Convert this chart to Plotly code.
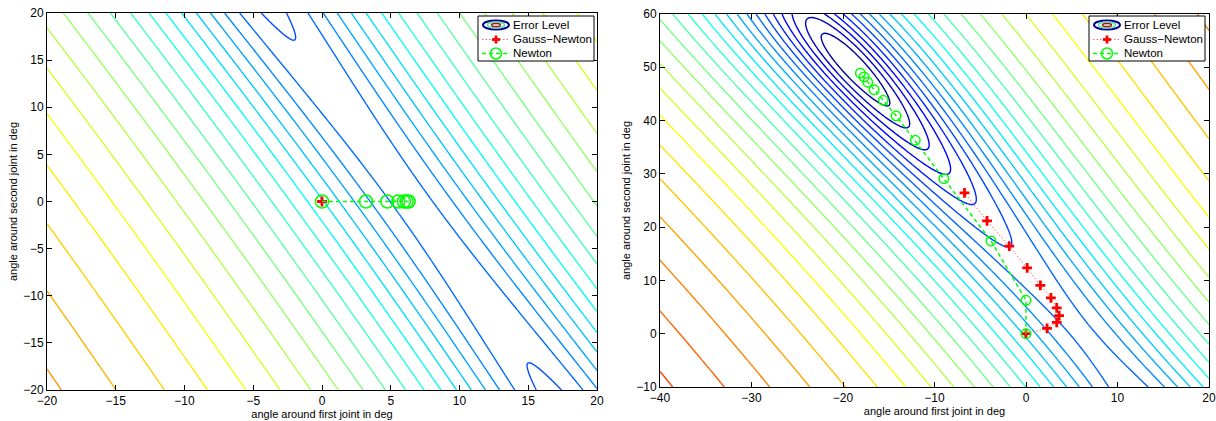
import numpy as np
import plotly.graph_objects as go

W, H = 1216, 421

# ---------------- data ----------------
LINK_LENGTHS = [1.0, 1.0]          # two-link arm, equal links

LEFT_X_RANGE = [-20, 20]
LEFT_Y_RANGE = [-20, 20]
LEFT_X_TICKS = [-20, -15, -10, -5, 0, 5, 10, 15, 20]
LEFT_Y_TICKS = [-20, -15, -10, -5, 0, 5, 10, 15, 20]
LEFT_TARGET_DIST = 1.9141
LEFT_TARGET_ANGLE = 6.5            # deg
LEFT_ERROR_OFFSET = 0.02           # level variable = log(|p - target|^2 + offset)
LEFT_LEVEL_STEP = 0.2266
LEFT_OUTER_LEVEL = 0.3513
LEFT_COLOR_RANGE = [0.20, 0.73]
LEFT_GN_T1 = [0.0]
LEFT_GN_T2 = [0.0]
LEFT_NEWTON_T1 = [0.0, 3.2, 4.75, 5.55, 5.95, 6.15, 6.3]
LEFT_NEWTON_T2 = [0.0, 0.0, 0.0, 0.0, 0.0, 0.0, 0.0]

RIGHT_X_RANGE = [-40, 20]
RIGHT_Y_RANGE = [-10, 60]
RIGHT_X_TICKS = [-40, -30, -20, -10, 0, 10, 20]
RIGHT_Y_TICKS = [-10, 0, 10, 20, 30, 40, 50, 60]
RIGHT_TARGET_DIST = 1.8126
RIGHT_TARGET_ANGLE = 6.2           # deg
RIGHT_ERROR_OFFSET = 0.01
RIGHT_LEVEL_STEP = 0.2225
RIGHT_OUTER_LEVEL = 0.957
RIGHT_COLOR_RANGE = [0.03, 0.815]
RIGHT_GN_T1 = [0.0, 2.3, 3.36, 3.62, 3.36, 2.72, 1.57, 0.13, -1.83, -4.26, -6.72]
RIGHT_GN_T2 = [0.0, 1.01, 2.14, 3.40, 4.84, 6.71, 9.09, 12.35, 16.42, 21.18, 26.44]
RIGHT_NEWTON_T1 = [0.0, 0.0, -3.83, -8.98, -12.1, -14.2, -15.6, -16.6, -17.3, -17.7, -18.1]
RIGHT_NEWTON_T2 = [0.0, 6.27, 17.42, 29.1, 36.3, 40.9, 43.8, 45.8, 47.2, 48.2, 48.9]

LEGEND_LABELS = ["Error Level", "Gauss\u2212Newton", "Newton"]
X_TITLE = "angle around first joint in deg"
Y_TITLE = "angle around second joint in deg"

FONT = "Liberation Sans, Arial, sans-serif"
GREEN = "rgb(0,255,0)"
RED = "rgb(255,0,0)"


def jet(f):
    f = float(np.clip(f, 0, 1))
    r = np.clip(1.5 - abs(4 * f - 3), 0, 1)
    g = np.clip(1.5 - abs(4 * f - 2), 0, 1)
    b = np.clip(1.5 - abs(4 * f - 1), 0, 1)
    return "rgb(%d,%d,%d)" % (round(r * 255), round(g * 255), round(b * 255))


def jet_segment(f0, f1, n=41):
    return [[i / (n - 1), jet(f0 + (f1 - f0) * i / (n - 1))] for i in range(n)]


def error_field(xr, yr, dist, ang, offset, n=301):
    t1 = np.linspace(xr[0], xr[1], n)
    t2 = np.linspace(yr[0], yr[1], n)
    A, B = np.meshgrid(np.radians(t1), np.radians(t2))
    l1, l2 = LINK_LENGTHS
    px = l1 * np.cos(A) + l2 * np.cos(A + B)
    py = l1 * np.sin(A) + l2 * np.sin(A + B)
    tx = dist * np.cos(np.radians(ang))
    ty = dist * np.sin(np.radians(ang))
    E = (px - tx) ** 2 + (py - ty) ** 2
    return t1, t2, np.round(np.log(E + offset), 5)


def px2x(p):
    return p / W


def px2y(p):
    return 1 - p / H


fig = go.Figure()

panels = [
    dict(xr=LEFT_X_RANGE, yr=LEFT_Y_RANGE, dist=LEFT_TARGET_DIST, ang=LEFT_TARGET_ANGLE,
         off=LEFT_ERROR_OFFSET, step=LEFT_LEVEL_STEP,
         outer=LEFT_OUTER_LEVEL, cr=LEFT_COLOR_RANGE, gn=(LEFT_GN_T1, LEFT_GN_T2),
         nw=(LEFT_NEWTON_T1, LEFT_NEWTON_T2), xa="x", ya="y", msize=13),
    dict(xr=RIGHT_X_RANGE, yr=RIGHT_Y_RANGE, dist=RIGHT_TARGET_DIST, ang=RIGHT_TARGET_ANGLE,
         off=RIGHT_ERROR_OFFSET, step=RIGHT_LEVEL_STEP,
         outer=RIGHT_OUTER_LEVEL, cr=RIGHT_COLOR_RANGE, gn=(RIGHT_GN_T1, RIGHT_GN_T2),
         nw=(RIGHT_NEWTON_T1, RIGHT_NEWTON_T2), xa="x2", ya="y2", msize=9.5),
]

for p in panels:
    t1, t2, Z = error_field(p["xr"], p["yr"], p["dist"], p["ang"], p["off"])
    k_max = int(np.floor((p["outer"] - Z.min()) / p["step"]))
    lo = p["outer"] - k_max * p["step"]
    fig.add_trace(go.Contour(
        x=t1, y=t2, z=Z, xaxis=p["xa"], yaxis=p["ya"],
        contours=dict(coloring="lines", start=lo, end=p["outer"] + 1e-6, size=p["step"]),
        line=dict(width=1.4, smoothing=1),
        colorscale=jet_segment(p["cr"][0], p["cr"][1]),
        showscale=False, hoverinfo="skip", showlegend=False,
    ))
    fig.add_trace(go.Scatter(
        x=p["gn"][0], y=p["gn"][1], xaxis=p["xa"], yaxis=p["ya"],
        mode="lines+markers",
        line=dict(color="rgba(255,60,60,0.8)", width=1, dash="1.5px,2px"),
        marker=dict(symbol="cross-thin", size=7, line=dict(width=2.8, color=RED)),
        showlegend=False, hoverinfo="skip",
    ))
    fig.add_trace(go.Scatter(
        x=p["nw"][0], y=p["nw"][1], xaxis=p["xa"], yaxis=p["ya"],
        mode="lines+markers",
        line=dict(color=GREEN, width=1.5, dash="4px,3px"),
        marker=dict(symbol="circle-open", size=p["msize"], line=dict(width=1.5, color=GREEN)),
        showlegend=False, hoverinfo="skip",
    ))

axis_common = dict(
    showline=True, linecolor="black", linewidth=1, mirror="ticks",
    ticks="inside", ticklen=5, tickcolor="black", tickwidth=1,
    showgrid=False, zeroline=False, automargin=False,
    tickfont=dict(family=FONT, size=12, color="black"),
)

fig.update_layout(
    width=W, height=H, margin=dict(l=0, r=0, t=0, b=0),
    paper_bgcolor="white", plot_bgcolor="white",
    font=dict(family=FONT, size=11, color="black"),
    xaxis=dict(domain=[px2x(47), px2x(597)], range=LEFT_X_RANGE, tickvals=LEFT_X_TICKS,
               anchor="y", title=dict(text=X_TITLE, standoff=1, font=dict(size=11)), **axis_common),
    yaxis=dict(domain=[px2y(390), px2y(13)], range=LEFT_Y_RANGE, tickvals=LEFT_Y_TICKS,
               anchor="x", title=dict(text=Y_TITLE, standoff=3, font=dict(size=11)), **axis_common),
    xaxis2=dict(domain=[px2x(660), px2x(1209)], range=RIGHT_X_RANGE, tickvals=RIGHT_X_TICKS,
                anchor="y2", title=dict(text=X_TITLE, standoff=1, font=dict(size=11)), **axis_common),
    yaxis2=dict(domain=[px2y(387), px2y(14)], range=RIGHT_Y_RANGE, tickvals=RIGHT_Y_TICKS,
                anchor="x2", title=dict(text=Y_TITLE, standoff=3, font=dict(size=11)), **axis_common),
)

# ---------------- legends (drawn as shapes + text) ----------------
shapes = []
annotations = []
for (bx0, by0, bx1, by1) in [(478, 16, 594, 61), (1089, 16, 1205, 61)]:
    shapes.append(dict(type="rect", xref="paper", yref="paper",
                       x0=px2x(bx0), x1=px2x(bx1), y0=px2y(by1), y1=px2y(by0),
                       line=dict(color="black", width=1), fillcolor="white", layer="above"))
    cx = bx0 + 18
    rows = [by0 + 9, by0 + 23.5, by0 + 37.5]
    # Error level icon
    for (w, h, col, lw) in [(13, 4.5, "rgb(0,0,150)", 2), (8.5, 3, "rgb(80,230,160)", 1.5),
                            (4.5, 1.6, "rgb(170,20,20)", 1.5)]:
        shapes.append(dict(type="circle", xref="paper", yref="paper",
                           x0=px2x(cx - w), x1=px2x(cx + w), y0=px2y(rows[0] + h), y1=px2y(rows[0] - h),
                           line=dict(color=col, width=lw), layer="above"))
    # Gauss-Newton icon
    shapes.append(dict(type="line", xref="paper", yref="paper",
                       x0=px2x(cx - 14), x1=px2x(cx + 14), y0=px2y(rows[1]), y1=px2y(rows[1]),
                       line=dict(color="rgba(255,60,60,0.8)", width=1, dash="1.5px,2px"), layer="above"))
    shapes.append(dict(type="line", xref="paper", yref="paper",
                       x0=px2x(cx - 4), x1=px2x(cx + 4), y0=px2y(rows[1]), y1=px2y(rows[1]),
                       line=dict(color=RED, width=2.8), layer="above"))
    shapes.append(dict(type="line", xref="paper", yref="paper",
                       x0=px2x(cx), x1=px2x(cx), y0=px2y(rows[1] + 4), y1=px2y(rows[1] - 4),
                       line=dict(color=RED, width=2.8), layer="above"))
    # Newton icon
    shapes.append(dict(type="line", xref="paper", yref="paper",
                       x0=px2x(cx - 14), x1=px2x(cx + 14), y0=px2y(rows[2]), y1=px2y(rows[2]),
                       line=dict(color=GREEN, width=1.5, dash="4px,3px"), layer="above"))
    shapes.append(dict(type="circle", xref="paper", yref="paper",
                       x0=px2x(cx - 5.5), x1=px2x(cx + 5.5), y0=px2y(rows[2] + 5.5), y1=px2y(rows[2] - 5.5),
                       line=dict(color=GREEN, width=1.5), layer="above"))
    for lab, ry in zip(LEGEND_LABELS, rows):
        annotations.append(dict(text=lab, xref="paper", yref="paper", x=px2x(bx0 + 33), y=px2y(ry),
                                xanchor="left", yanchor="middle", showarrow=False,
                                font=dict(family=FONT, size=11.5, color="black")))

fig.update_layout(shapes=shapes, annotations=annotations)
fig.write_html("out.html")
